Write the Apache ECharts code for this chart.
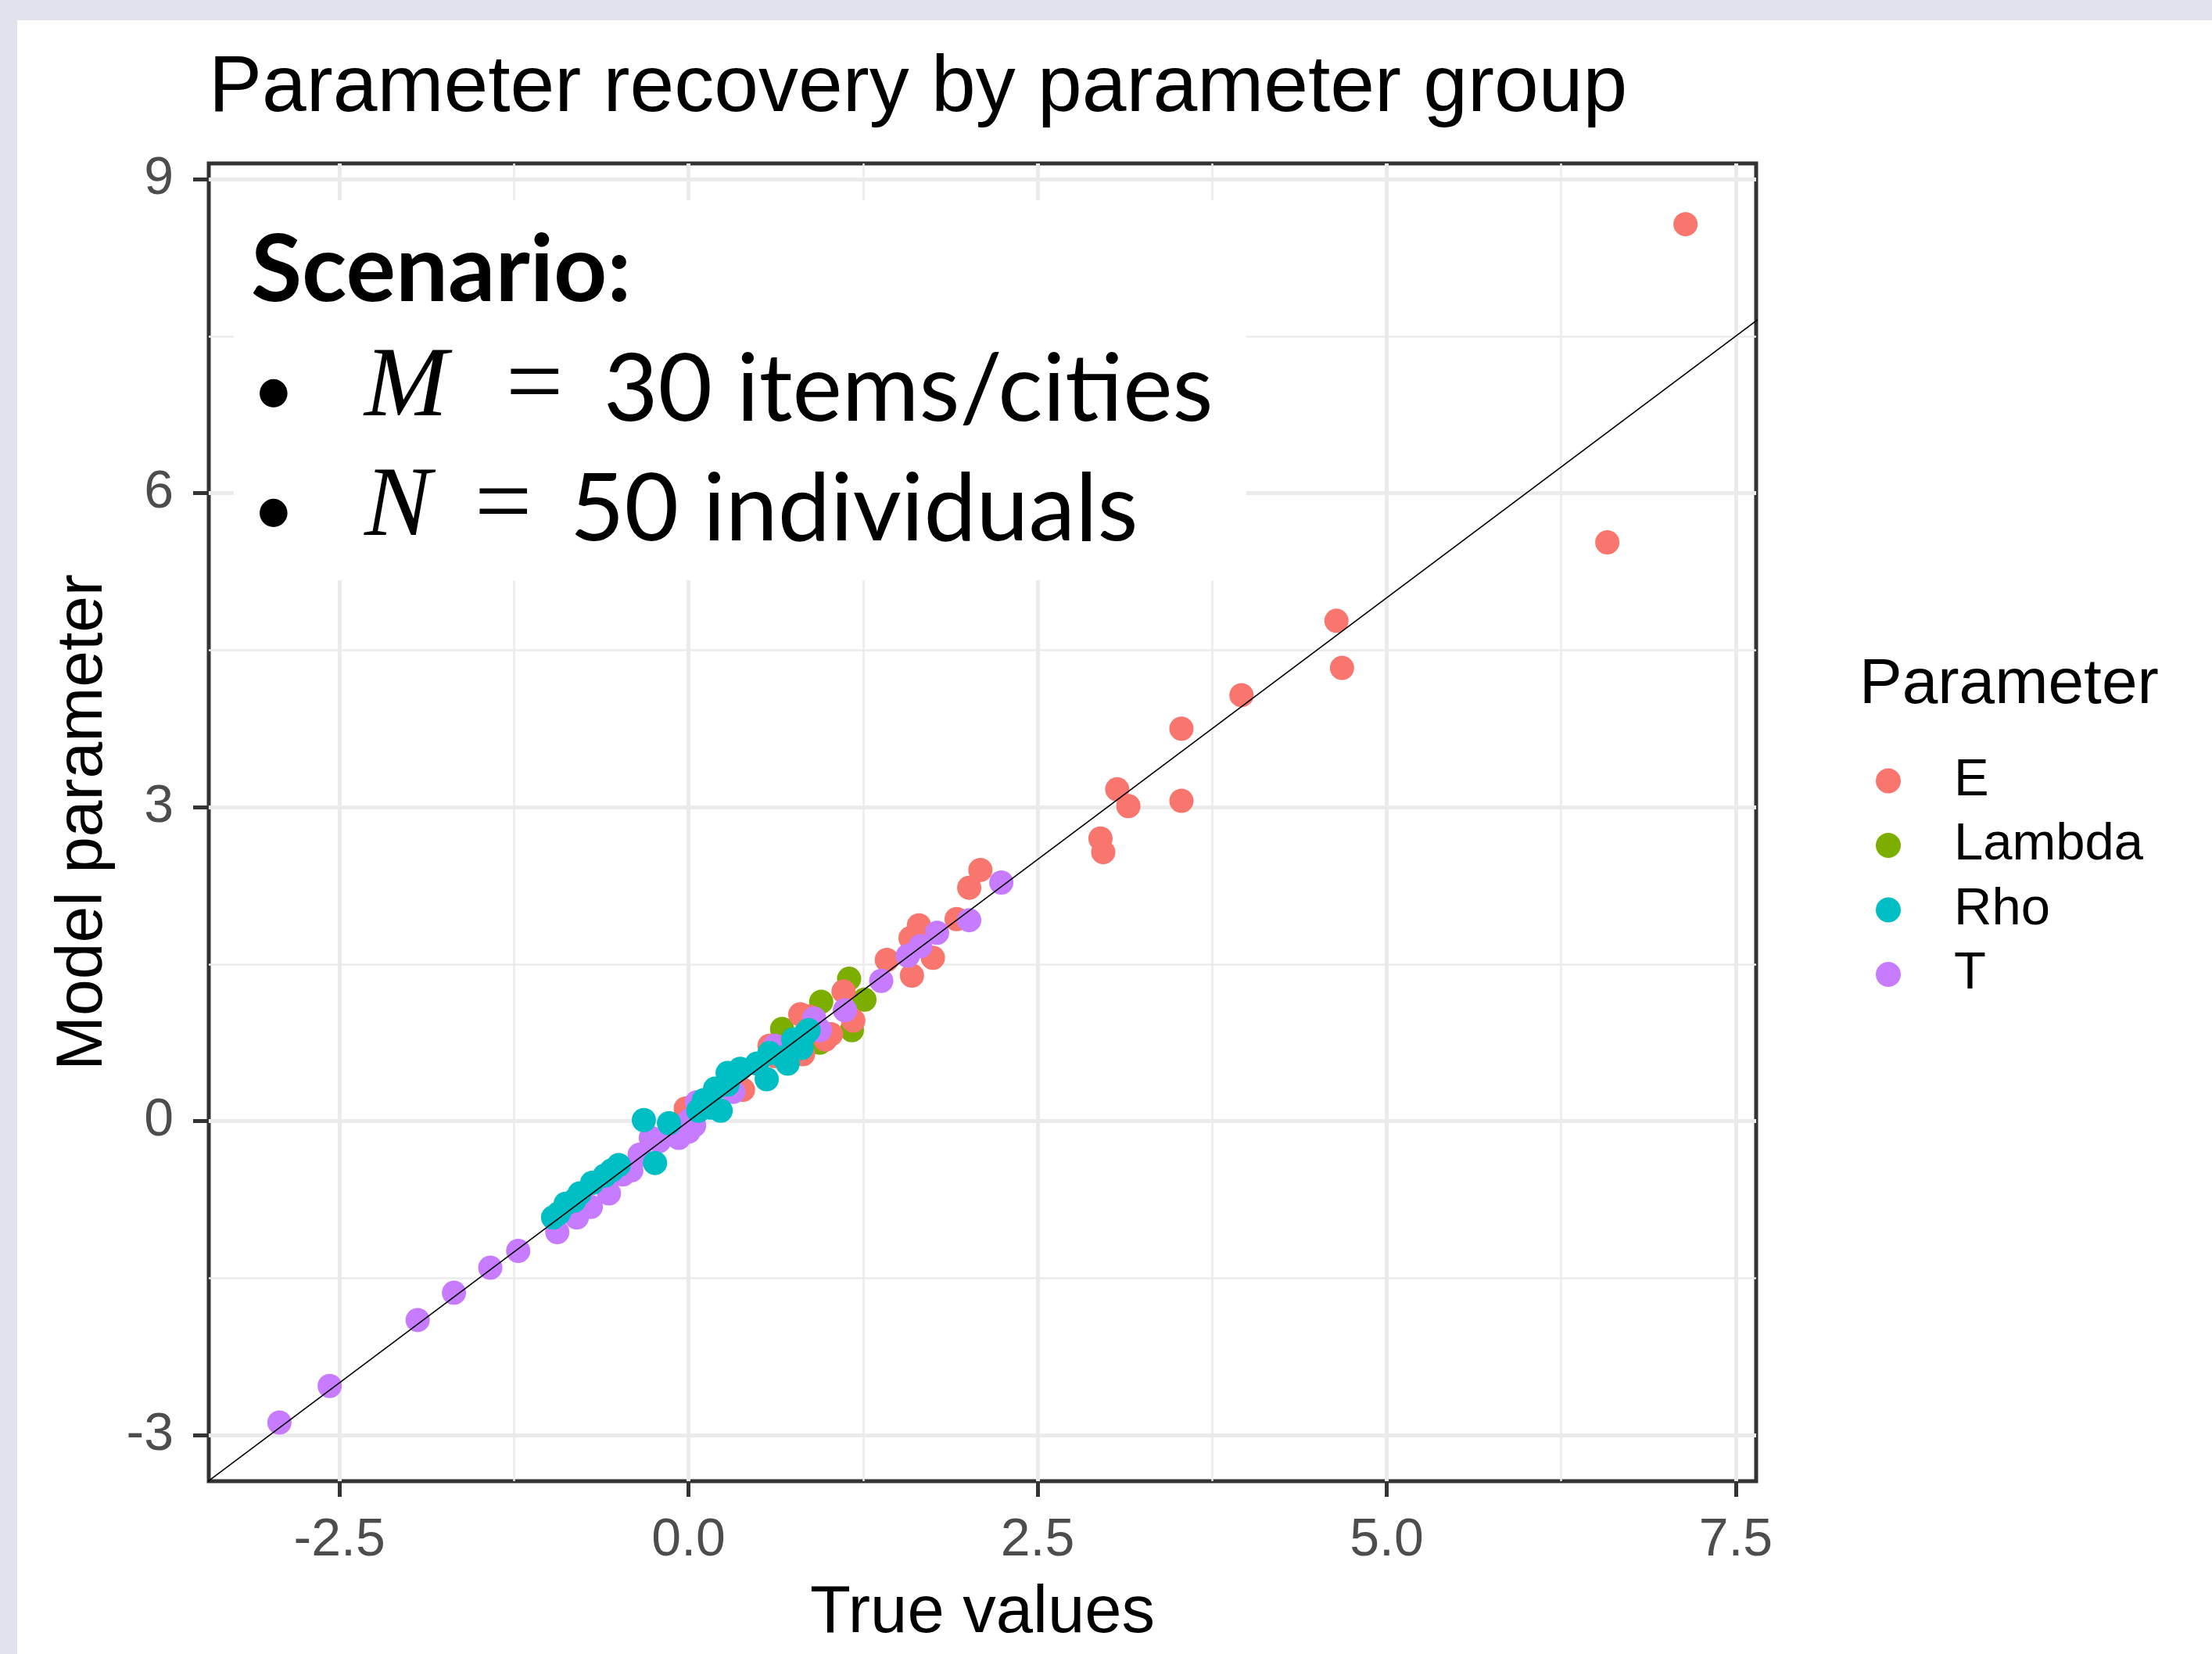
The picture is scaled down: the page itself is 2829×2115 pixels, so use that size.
<!DOCTYPE html>
<html>
<head>
<meta charset="utf-8">
<script src="https://cdn.jsdelivr.net/npm/echarts@6/dist/echarts.min.js"></script>
<style>
html,body{margin:0;padding:0;background:#fff;}
#chart{width:2829px;height:2115px;}
</style>
</head>
<body>
<div id="chart"></div>
<script>
// ---------------- data ----------------
const seriesNames = ['E', 'Lambda', 'Rho', 'T'];
const seriesColors = ['#F8766D', '#7CAE00', '#00BFC4', '#C77CFF'];

const dataE = [
  [7.14, 8.57], [6.58, 5.53], [4.64, 4.78], [4.68, 4.33], [3.96, 4.07], [3.53, 3.75],
  [3.53, 3.06], [3.07, 3.17], [3.15, 3.01], [2.95, 2.70], [2.97, 2.57],
  [2.09, 2.40], [2.01, 2.23], [1.92, 1.93], [1.65, 1.87], [1.59, 1.75], [1.75, 1.56],
  [1.42, 1.54], [1.60, 1.39], [1.11, 1.24], [1.18, 0.96], [0.86, 1.00], [0.80, 1.02],
  [1.02, 0.83], [0.82, 0.64], [0.58, 0.72], [0.39, 0.30], [0.62, 0.62], [0.98, 0.78],
  [-0.02, 0.12]
];
const dataLambda = [
  [1.15, 1.36], [1.26, 1.16], [0.95, 1.14], [0.67, 0.88], [0.94, 0.75], [1.17, 0.87]
];
const dataRho = [
  [-0.32, 0.01], [-0.14, -0.02], [-0.24, -0.40], [0.07, 0.10], [0.11, 0.20], [0.16, 0.13],
  [0.23, 0.10], [0.19, 0.31], [0.28, 0.35], [0.28, 0.46], [0.37, 0.50], [0.49, 0.55],
  [0.56, 0.40], [0.58, 0.65], [0.68, 0.61], [0.71, 0.55], [0.81, 0.70], [0.75, 0.78],
  [0.86, 0.87], [0.84, 0.84],
  [-0.50, -0.42], [-0.55, -0.47], [-0.60, -0.52], [-0.69, -0.59], [-0.78, -0.69],
  [-0.82, -0.76], [-0.88, -0.79], [-0.93, -0.88], [-0.97, -0.92]
];
const dataT = [
  [-2.93, -2.88], [-2.57, -2.53], [-1.94, -1.90], [-1.68, -1.64], [-1.42, -1.40], [-1.22, -1.24],
  [-0.94, -1.06], [-0.80, -0.92], [-0.70, -0.82], [-0.57, -0.69], [-0.47, -0.51], [-0.41, -0.47],
  [-0.35, -0.32], [-0.27, -0.16], [-0.21, -0.19], [-0.12, -0.10], [-0.07, -0.16], [0.00, -0.10],
  [0.01, 0.01], [0.04, -0.04], [0.06, 0.18], [0.32, 0.28], [0.62, 0.72], [0.90, 0.98],
  [0.94, 0.87], [1.12, 1.06], [1.38, 1.34], [1.57, 1.58], [1.66, 1.67], [1.78, 1.80],
  [2.01, 1.92], [2.24, 2.28]
];
const refLine = [[-4, -4], [8, 8]];   // identity line y = x

const xRange = [-3.436, 7.646];
const yRange = [-3.44, 9.15];
const xMajor = [-2.5, 0, 2.5, 5, 7.5];
const xMinor = [-1.25, 1.25, 3.75, 6.25];
const yMajor = [-3, 0, 3, 6, 9];
const yMinor = [-1.5, 1.5, 4.5, 7.5];

const titleText = 'Parameter recovery by parameter group';
const xTitle = 'True values';
const yTitle = 'Model parameter';
const legendTitle = 'Parameter';

// ---------------- chart ----------------
const FONT = '"Liberation Sans", Arial, sans-serif';
const chart = echarts.init(document.getElementById('chart'), null, {renderer: 'canvas'});

const option = {
  animation: false,
  backgroundColor: '#ffffff',
  title: [
    {text: titleText, left: 267, top: 63, padding: 0,
      textStyle: {fontSize: 102, fontWeight: 'normal', color: '#000', fontFamily: FONT}},
    {text: legendTitle, left: 2378, top: 835, padding: 0,
      textStyle: {fontSize: 82, fontWeight: 'normal', color: '#000', fontFamily: FONT}}
  ],
  grid: {left: 267, top: 209, width: 1979, height: 1685, show: true,
    borderColor: '#333333', borderWidth: 5, backgroundColor: 'transparent', containLabel: false},
  xAxis: [
    {type: 'value', gridIndex: 0, min: xRange[0], max: xRange[1], position: 'bottom',
      axisLine: {show: false, onZero: false},
      axisTick: {show: true, inside: false, length: 20, customValues: xMajor, lineStyle: {color: '#333333', width: 5}},
      axisLabel: {show: true, customValues: xMajor, formatter: v => Number(v).toFixed(1),
        fontSize: 68, color: '#4D4D4D', fontFamily: FONT, margin: 42},
      splitLine: {show: true, lineStyle: {color: '#EBEBEB', width: 5}},
      name: xTitle, nameLocation: 'middle', nameGap: 127,
      nameTextStyle: {fontSize: 85, color: '#000', fontFamily: FONT}},
    {type: 'value', gridIndex: 0, min: xRange[0], max: xRange[1], position: 'bottom',
      axisLine: {show: false, onZero: false},
      axisTick: {show: false, customValues: xMinor},
      axisLabel: {show: false, customValues: xMinor},
      splitLine: {show: true, lineStyle: {color: '#EBEBEB', width: 2.5}}}
  ],
  yAxis: [
    {type: 'value', gridIndex: 0, min: yRange[0], max: yRange[1], position: 'left',
      axisLine: {show: false, onZero: false},
      axisTick: {show: true, inside: false, length: 20, customValues: yMajor, lineStyle: {color: '#333333', width: 5}},
      axisLabel: {show: true, customValues: yMajor, formatter: v => String(Math.round(v)),
        fontSize: 68, color: '#4D4D4D', fontFamily: FONT, margin: 45},
      splitLine: {show: true, lineStyle: {color: '#EBEBEB', width: 5}},
      name: yTitle, nameLocation: 'middle', nameGap: 118, nameRotate: 90,
      nameTextStyle: {fontSize: 84, color: '#000', fontFamily: FONT}},
    {type: 'value', gridIndex: 0, min: yRange[0], max: yRange[1], position: 'left',
      axisLine: {show: false, onZero: false},
      axisTick: {show: false, customValues: yMinor},
      axisLabel: {show: false, customValues: yMinor},
      splitLine: {show: true, lineStyle: {color: '#EBEBEB', width: 2.5}}}
  ],
  legend: {
    data: seriesNames, orient: 'vertical', left: 2394, top: 960,
    icon: 'circle', itemWidth: 32, itemHeight: 32, itemGap: 15.5,
    textStyle: {fontSize: 67, lineHeight: 66, color: '#000', fontFamily: FONT, padding: [0, 0, 0, 63]},
    selectedMode: false
  },
  graphic: [
    {type: 'rect', shape: {x: 0, y: 0, width: 2829, height: 26}, style: {fill: '#E0E3EE'}, z: 0, silent: true},
    {type: 'rect', shape: {x: 0, y: 0, width: 22, height: 2115}, style: {fill: '#E0E3EE'}, z: 0, silent: true},
    {type: 'rect', shape: {x: 299, y: 256, width: 1295, height: 486}, style: {fill: '#ffffff'}, z: 5, silent: true},
    {type: 'text', x: 321, y: 347, z: 6, style: {text: 'Scenario:', font: 'bold 119px Lato', fill: '#000', verticalAlign: 'middle', align: 'left'}},
    {type: 'text', x: 322, y: 501, z: 6, style: {text: '•', font: '96px Lato', fill: '#000', verticalAlign: 'middle', align: 'left'}},
    {type: 'text', x: 466, y: 497, z: 6, style: {text: 'M', font: 'italic 128px "Liberation Serif"', fill: '#000', verticalAlign: 'middle', align: 'left'}},
    {type: 'text', x: 647, y: 497, z: 6, style: {text: '=', font: '130px "Liberation Serif"', fill: '#000', verticalAlign: 'middle', align: 'left'}},
    {type: 'text', x: 772, y: 499, z: 6, style: {text: '30 items/cities', font: '120px Lato', fill: '#000', verticalAlign: 'middle', align: 'left'}},
    {type: 'text', x: 322, y: 654, z: 6, style: {text: '•', font: '96px Lato', fill: '#000', verticalAlign: 'middle', align: 'left'}},
    {type: 'text', x: 466, y: 650, z: 6, style: {text: 'N', font: 'italic 128px "Liberation Serif"', fill: '#000', verticalAlign: 'middle', align: 'left'}},
    {type: 'text', x: 607, y: 650, z: 6, style: {text: '=', font: '130px "Liberation Serif"', fill: '#000', verticalAlign: 'middle', align: 'left'}},
    {type: 'text', x: 729, y: 652, z: 6, style: {text: '50 individuals', font: '120px Lato', fill: '#000', verticalAlign: 'middle', align: 'left'}}
  ],
  series: [
    {name: 'Lambda', type: 'scatter', data: dataLambda, symbol: 'circle', symbolSize: 31,
      itemStyle: {color: seriesColors[1], opacity: 1}, z: 2},
    {name: 'E', type: 'scatter', data: dataE, symbol: 'circle', symbolSize: 31,
      itemStyle: {color: seriesColors[0], opacity: 1}, z: 2},
    {name: 'T', type: 'scatter', data: dataT, symbol: 'circle', symbolSize: 31,
      itemStyle: {color: seriesColors[3], opacity: 1}, z: 2},
    {name: 'Rho', type: 'scatter', data: dataRho, symbol: 'circle', symbolSize: 31,
      itemStyle: {color: seriesColors[2], opacity: 1}, z: 2},
    {name: 'identity', type: 'line', data: refLine, symbol: 'none', clip: true,
      lineStyle: {color: '#000', width: 1.6}, z: 3, silent: true}
  ]
};
chart.setOption(option);
</script>
</body>
</html>
